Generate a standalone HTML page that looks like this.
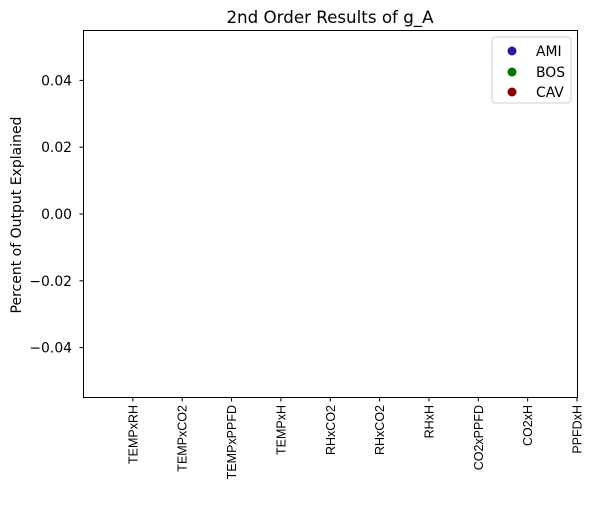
<!DOCTYPE html>
<html><head><meta charset="utf-8"><style>
body{margin:0;background:#fff}
svg text{font-family:"DejaVu Sans","Liberation Sans",sans-serif;fill:#000}
svg text.xl{font-family:"Liberation Sans","DejaVu Sans",sans-serif}
</style></head><body>
<svg id="chart" width="594" height="501" xmlns="http://www.w3.org/2000/svg">
<text x="330" y="23" font-size="16.7" text-anchor="middle">2nd Order Results of g_A</text>
<rect x="83.5" y="30.5" width="494" height="367" fill="none" stroke="#000" stroke-width="1"/>
<g id="yticks"></g>
<g id="xticks"></g>
<g id="marks"></g>
<text transform="translate(21,215) rotate(-90)" font-size="14" text-anchor="middle">Percent of Output Explained</text>
<g>
<rect x="492" y="37" width="79" height="66" rx="3" fill="#fff" stroke="#ccc"/>
<g><circle cx="512" cy="51" r="4.5" fill="#2a1aa0"/><text x="536" y="56" font-size="13.9">AMI</text></g>
<g><circle cx="512" cy="72" r="4.5" fill="#007800"/><text x="536" y="77" font-size="13.9">BOS</text></g>
<g><circle cx="512" cy="92" r="4.5" fill="#8b0000"/><text x="536" y="97" font-size="13.9">CAV</text></g>
</g>
</svg>
<script>
const categories=["TEMPxRH","TEMPxCO2","TEMPxPPFD","TEMPxH","RHxCO2","RHxCO2","RHxH","CO2xPPFD","CO2xH","PPFDxH"];
const yTickValues=[0.04,0.02,0,-0.02,-0.04];
const yTickLabels=["0.04","0.02","0.00","\u22120.02","\u22120.04"];
const amiValues=[];
const bosValues=[];
const cavValues=[];
const NS="http://www.w3.org/2000/svg";
const yScale=v=>214-(v/0.02)*66.8;
const xScale=i=>83.5+(i+1)*49.35;
const yt=document.getElementById('yticks'),xt=document.getElementById('xticks'),mk=document.getElementById('marks');
yTickValues.forEach((v,i)=>{const y=yScale(v);
const l=document.createElementNS(NS,'line');l.setAttribute('x1',79.5);l.setAttribute('x2',83.5);l.setAttribute('y1',y);l.setAttribute('y2',y);l.setAttribute('stroke','#000');

yt.appendChild(l);
const t=document.createElementNS(NS,'text');t.setAttribute('x',72);t.setAttribute('y',y+5);t.setAttribute('font-size','13.9');t.setAttribute('text-anchor','end');t.textContent=yTickLabels[i];

yt.appendChild(t);});
categories.forEach((c,i)=>{const x=xScale(i);
const l=document.createElementNS(NS,'line');l.setAttribute('x1',x);l.setAttribute('x2',x);l.setAttribute('y1',397.5);l.setAttribute('y2',401.5);l.setAttribute('stroke','#000');

xt.appendChild(l);
const t=document.createElementNS(NS,'text');t.setAttribute('class','xl');t.setAttribute('transform','translate('+(x+4.5)+',405) rotate(-90)');t.setAttribute('font-size','12.5');t.setAttribute('text-anchor','end');t.textContent=c;

xt.appendChild(t);});
[[amiValues,'#2a1aa0'],[bosValues,'#007800'],[cavValues,'#8b0000']].forEach(([arr,col])=>{arr.forEach((v,i)=>{
const c=document.createElementNS(NS,'circle');c.setAttribute('cx',xScale(i));c.setAttribute('cy',yScale(v));c.setAttribute('r',4.5);c.setAttribute('fill',col);

mk.appendChild(c);});});
</script>
</body></html>
